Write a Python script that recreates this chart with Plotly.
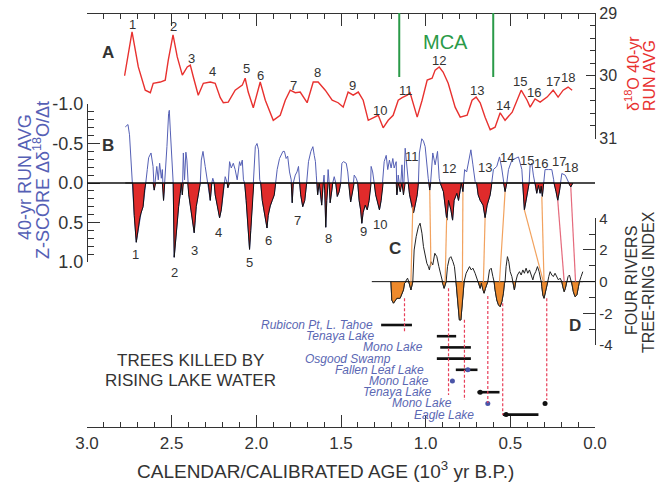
import plotly.graph_objects as go

# ---------------- data ----------------
# Panel A: delta18O 40-yr running average (age in 10^3 yr B.P., per mil)
A_SERIES = [(2.778,30.00),(2.734,29.30),(2.697,29.86),(2.656,30.23),(2.626,30.27),(2.609,30.12),
            (2.567,30.10),(2.538,30.07),(2.520,29.75),(2.492,29.35),(2.467,29.70),(2.437,29.99),
            (2.408,29.86),(2.390,29.83),(2.372,30.02),(2.343,30.31),(2.313,30.12),(2.272,30.10),
            (2.243,30.12),(2.213,30.35),(2.195,30.43),(2.166,30.42),(2.125,30.23),(2.083,30.15),
            (2.066,30.04),(2.048,30.26),(2.018,30.51),(1.995,30.27),(1.977,30.10),(1.947,30.39),
            (1.900,30.71),(1.859,30.63),(1.829,30.39),(1.800,30.23),(1.770,30.27),(1.741,30.26),
            (1.700,30.43),(1.664,30.10),(1.635,30.10),(1.593,30.23),(1.552,30.39),(1.517,30.43),
            (1.487,30.50),(1.458,30.26),(1.428,30.31),(1.398,30.26),(1.369,30.39),(1.339,30.71),
            (1.310,30.67),(1.280,30.63),(1.251,30.83),(1.221,30.71),(1.192,30.63),(1.162,30.39),
            (1.139,30.35),(1.109,30.31),(1.092,30.27),(1.050,30.66),(1.021,30.39),(0.991,30.07),
            (0.962,30.04),(0.944,29.91),(0.920,29.86),(0.897,29.94),(0.867,30.12),(0.826,30.50),
            (0.796,30.66),(0.755,30.63),(0.726,30.39),(0.702,30.34),(0.678,30.43),(0.649,30.66),
            (0.619,30.86),(0.590,30.82),(0.560,30.59),(0.531,30.71),(0.489,30.58),(0.460,30.39),
            (0.436,30.23),(0.401,30.39),(0.383,30.50),(0.354,30.37),(0.324,30.42),(0.283,30.34),
            (0.247,30.23),(0.218,30.34),(0.188,30.23),(0.159,30.18),(0.135,30.23)]

# Panel B: 40-yr run avg z-score of d(d18O)/dt
B_SERIES = [(2.774,-0.71),(2.758,-0.74),(2.749,-0.61),(2.739,-0.21),(2.730,0),(2.721,0.41),(2.709,0.75),
            (2.703,0.66),(2.695,0.53),(2.688,0.44),(2.681,0.38),(2.669,0.30),(2.660,0.09),(2.653,0),
            (2.644,-0.17),(2.636,-0.32),(2.622,-0.38),(2.610,-0.21),(2.603,0.09),(2.595,-0.10),(2.588,-0.21),
            (2.579,-0.04),(2.571,-0.25),(2.561,-0.06),(2.555,-0.17),(2.548,0.22),(2.541,0),(2.528,-0.46),
            (2.518,-0.88),(2.514,-0.92),(2.508,-0.67),(2.498,-0.25),(2.491,0),(2.485,0.94),(2.473,0.63),
            (2.459,0.30),(2.449,0.13),(2.443,0),(2.437,0.15),(2.431,-0.38),(2.424,-0.04),(2.416,-0.39),
            (2.410,-0.29),(2.405,0),(2.399,0.15),(2.390,0.28),(2.381,0.41),(2.373,0.53),(2.367,0.63),
            (2.361,0.47),(2.355,0.30),(2.346,0.19),(2.337,0.09),(2.331,0),(2.325,-0.29),(2.315,-0.40),
            (2.302,-0.21),(2.292,-0.06),(2.284,0),(2.272,0.22),(2.263,0),(2.257,-0.06),(2.249,0),
            (2.243,0.15),(2.231,0.28),(2.217,0.44),(2.207,0.34),(2.195,0.15),(2.190,0),(2.184,-0.08),
            (2.172,0),(2.168,0.06),(2.158,-0.27),(2.148,-0.19),(2.136,-0.25),(2.125,-0.17),(2.113,-0.04),
            (2.099,-0.27),(2.092,-0.22),(2.083,-0.29),(2.076,-0.04),(2.069,0),(2.060,0.22),(2.051,0.47),
            (2.040,0.84),(2.033,0.60),(2.024,0.22),(2.018,0),(2.015,-0.25),(2.006,-0.46),(1.996,-0.50),
            (1.987,-0.42),(1.980,-0.04),(1.974,0),(1.965,0.22),(1.953,0.37),(1.945,0.44),(1.937,0.57),
            (1.930,0.41),(1.918,0.29),(1.906,0.22),(1.894,0.15),(1.886,0),(1.877,-0.17),(1.863,-0.31),
            (1.843,-0.40),(1.834,-0.40),(1.824,-0.31),(1.815,-0.34),(1.804,-0.14),(1.794,-0.04),(1.788,0.25),
            (1.782,0),(1.770,-0.10),(1.760,-0.14),(1.751,-0.21),(1.744,0),(1.738,0.15),(1.726,0.30),
            (1.714,0.22),(1.703,0),(1.692,-0.27),(1.678,-0.40),(1.666,-0.46),(1.658,-0.35),(1.651,-0.27),
            (1.646,-0.10),(1.642,0),(1.638,0.15),(1.629,0),(1.623,0.09),(1.614,0.28),(1.605,0),
            (1.600,-0.10),(1.596,0.09),(1.590,0.56),(1.584,0.22),(1.580,0),(1.576,-0.17),(1.570,0),
            (1.564,0.25),(1.554,0.09),(1.549,0),(1.540,-0.08),(1.531,0),(1.522,0.17),(1.511,0.11),
            (1.502,0),(1.495,-0.25),(1.485,-0.27),(1.469,-0.25),(1.460,-0.14),(1.455,0),(1.443,0.24),
            (1.431,0.09),(1.425,0),(1.422,-0.10),(1.410,-0.06),(1.401,0),(1.393,0.22),(1.384,0.34),
            (1.377,0.51),(1.369,0.37),(1.357,0.28),(1.345,0.34),(1.334,0.22),(1.325,0),(1.322,-0.21),
            (1.313,-0.14),(1.304,0),(1.295,0.15),(1.283,0.25),(1.273,0.34),(1.263,0.22),(1.255,0),
            (1.251,-0.14),(1.245,-0.27),(1.233,-0.35),(1.224,-0.17),(1.214,-0.29),(1.204,-0.19),
            (1.194,-0.31),(1.186,-0.19),(1.174,-0.27),(1.170,0.15),(1.162,-0.10),(1.150,0.11),
            (1.140,-0.23),(1.131,0.15),(1.121,-0.44),(1.112,-0.23),(1.103,0),(1.095,0.15),(1.083,0.28),
            (1.072,0.38),(1.062,0.28),(1.050,0.15),(1.043,0),(1.037,-0.38),(1.023,-0.56),(1.013,-0.53),
            (1.003,-0.46),(0.993,-0.17),(0.985,-0.06),(0.981,0),(0.976,0.09),(0.971,0),(0.958,-0.38),
            (0.944,-0.23),(0.930,-0.40),(0.920,-0.06),(0.914,0),(0.895,0.11),(0.885,0.30),(0.875,0.47),
            (0.865,0.22),(0.851,0.34),(0.841,0.47),(0.832,0.22),(0.816,0.13),(0.806,0.22),(0.796,0.09),
            (0.790,0),(0.780,0.11),(0.776,0),(0.770,-0.17),(0.758,-0.14),(0.747,-0.25),(0.733,-0.42),
            (0.721,-0.23),(0.708,-0.02),(0.699,0),(0.690,0.15),(0.678,0.22),(0.661,0.28),(0.649,0.44),
            (0.637,0.28),(0.619,0.15),(0.609,0),(0.600,-0.17),(0.580,-0.21),(0.564,-0.33),(0.551,-0.19),
            (0.543,-0.04),(0.540,0),(0.531,0.11),(0.521,0),(0.511,-0.17),(0.491,-0.29),(0.472,-0.31),
            (0.452,-0.33),(0.432,-0.17),(0.427,0),(0.417,0.34),(0.404,0.19),(0.389,0),(0.383,-0.23),
            (0.373,-0.25),(0.364,-0.10),(0.354,0),(0.344,0.13),(0.334,0.03),(0.324,0.13),(0.318,0.04),
            (0.311,0.17),(0.303,0),(0.295,-0.17),(0.275,-0.17),(0.255,-0.17),(0.244,-0.04),(0.242,0),
            (0.230,0.11),(0.220,0.22),(0.209,0.09),(0.203,0),(0.196,-0.12),(0.176,-0.10),(0.162,-0.04),
            (0.157,0),(0.143,0.05),(0.131,0)]

# Panel C: Four Rivers tree-ring index
C_SERIES = [(1.205,0),(1.200,-1.16),(1.190,-1.36),(1.170,-1.05),(1.151,-1.05),(1.141,-0.73),(1.131,-0.52),
            (1.125,-0.10),(1.115,0.11),(1.107,0.22),(1.100,0),(1.087,-0.52),(1.076,0),(1.068,2.00),
            (1.056,2.84),(1.043,3.47),(1.033,3.69),(1.022,3.06),(1.013,2.21),(1.003,1.58),(0.993,1.16),
            (0.984,0.95),(0.978,0.74),(0.969,1.26),(0.958,1.06),(0.946,1.79),(0.934,1.58),(0.922,0.95),
            (0.910,0.42),(0.903,0),(0.891,-0.42),(0.879,0),(0.871,0.95),(0.860,1.48),(0.851,1.58),
            (0.839,1.26),(0.830,0.95),(0.822,0.11),(0.820,-0.10),(0.812,-1.16),(0.806,-2.00),(0.801,-2.42),
            (0.792,-2.42),(0.786,-1.79),(0.780,-0.73),(0.773,0),(0.761,0.53),(0.753,0.74),(0.741,0.95),
            (0.731,0.74),(0.721,0.85),(0.708,0.53),(0.698,0.22),(0.690,0),(0.678,-0.42),(0.671,-0.10),
            (0.662,-0.52),(0.655,-0.73),(0.647,-0.42),(0.639,-0.10),(0.633,0),(0.623,0.74),(0.613,0.85),
            (0.603,0.32),(0.596,0),(0.590,-0.52),(0.580,-1.16),(0.570,-1.47),(0.560,-1.58),(0.550,-1.26),
            (0.541,-0.73),(0.535,-0.10),(0.531,0),(0.525,0.95),(0.517,1.58),(0.509,1.26),(0.501,0.63),
            (0.491,0.32),(0.485,0),(0.476,-0.52),(0.468,0),(0.458,0.42),(0.446,0.63),(0.436,0.42),
            (0.426,0.74),(0.417,0.53),(0.407,0.85),(0.397,0.53),(0.387,0.74),(0.377,0.42),(0.367,0.11),
            (0.360,0.42),(0.350,0.63),(0.340,0.95),(0.330,0.63),(0.320,0.11),(0.317,0),(0.314,-0.32),
            (0.308,-0.84),(0.301,-1.05),(0.293,-0.73),(0.285,-0.32),(0.279,0),(0.273,0.32),(0.265,0.63),
            (0.255,0.42),(0.246,0.32),(0.236,0.53),(0.226,0.32),(0.216,0.11),(0.206,0.22),(0.196,0),
            (0.190,-0.32),(0.182,-0.63),(0.175,-0.42),(0.167,0),(0.159,0.32),(0.151,0.42),(0.143,0.11),
            (0.139,0),(0.135,-0.21),(0.128,-0.63),(0.118,-0.95),(0.107,-0.84),(0.098,-0.32),(0.092,0),
            (0.082,0.32),(0.072,0.63)]
C_ZERO_SPAN = [1.318, 0.0]

EVENT_LABELS = [str(i) for i in range(1, 19)]
A_LABEL_AGE = [2.734,2.492,2.384,2.256,2.056,1.977,1.780,1.639,1.430,1.269,1.115,0.924,0.698,0.544,0.442,0.360,0.249,0.157]
A_LABEL_VAL = [29.19,29.22,29.72,29.94,29.88,29.99,30.15,29.95,30.15,30.55,30.23,29.75,30.23,30.47,30.09,30.27,30.09,30.02]
B_LABEL_AGE = [2.715,2.485,2.367,2.225,2.042,1.930,1.759,1.576,1.369,1.269,1.080,0.861,0.649,0.519,0.401,0.318,0.212,0.141]
B_LABEL_Z = [0.91,1.13,0.85,0.63,1.01,0.73,0.47,0.70,0.62,0.52,-0.33,-0.18,-0.19,-0.32,-0.29,-0.25,-0.27,-0.19]

MCA_BOUNDS = [1.156, 0.601]
MCA_TOP_BOTTOM = [29.0, 30.02]

# correlation links B -> C
LINK_B_AGE = [1.076,0.976,0.876,0.780,0.649,0.531,0.417,0.314,0.220,0.143]
LINK_B_Z   = [0.30,0.09,0.44,0.11,0.44,0.11,0.34,0.17,0.22,0.05]
LINK_C_AGE = [1.087,0.969,0.885,0.783,0.659,0.564,0.305,0.301,0.182,0.115]
LINK_C_VAL = [0,0.99,0,0,0,0,0,0,0,0]

# dashed drops C -> D
DASH_AGE = [1.125,0.865,0.771,0.633,0.545,0.285]
DASH_C_VAL = [-1.05,-0.42,-2.40,-0.90,-1.37,-1.05]
DASH_D_ROW = [0.6,6.25,6.7,6.96,8.04,6.7]

# Panel D: trees killed by rising lake water
D_SITES = ["Rubicon Pt, L. Tahoe","Tenaya Lake","Mono Lake","Osgood Swamp","Fallen Leaf Lake",
           "Mono Lake","Tenaya Lake","Mono Lake","Eagle Lake"]
D_OLD   = [1.263,0.934,0.914,0.934,0.822,None,0.694,None,0.544]
D_YOUNG = [1.081,0.820,0.733,0.733,0.694,None,0.564,None,0.334]
D_BLUE_DOT  = [None,None,None,None,0.751,0.842,None,0.633,None]
D_BLACK_DOT = [None,None,None,None,None,None,0.678,0.295,0.525]

# ---------------- layout geometry / styles ----------------
W, H = 667, 482
ML, MR, MT, MB = 87, 72, 13, 55
PW, PH = W - ML - MR, H - MT - MB
def px(x): return (x - ML) / PW
def py(y): return (H - MB - y) / PH

DOM_A, RNG_A = [py(138.5), py(13)], [31, 29]
DOM_B, RNG_B = [py(262), py(104)], [1, -1]
DOM_C, RNG_C = [py(345), py(218.3)], [-4, 4]
DOM_D, RNG_D = [py(420), py(318)], [8.482, -0.625]

def to_paper(v, dom, rng):
    return dom[0] + (v - rng[0]) / (rng[1] - rng[0]) * (dom[1] - dom[0])

FONT = "Liberation Sans, Arial, Helvetica, sans-serif"
AX = "#333333"
TXT = "#333333"
RED = "#e8312f"
BLUE = "#5560b5"
FILL_RED = "#e02b2b"
ORANGE = "#ee8a2c"
GREEN = "#2a9a48"
LINK_COLORS = ["#f2a25e"] * 8 + ["#e56a7c"] * 2
DASH_COLOR = "#e8405a"
D_LABEL_AGE = [1.298,1.288,1.003,1.192,0.997,0.969,0.948,0.830,0.702]

a_age = [p[0] for p in A_SERIES]; a_val = [p[1] for p in A_SERIES]
b_age = [p[0] for p in B_SERIES]; b_val = [p[1] for p in B_SERIES]
c_age = [p[0] for p in C_SERIES]; c_val = [p[1] for p in C_SERIES]

fig = go.Figure()
# A
fig.add_trace(go.Scatter(x=a_age, y=a_val, mode="lines", line=dict(color=RED, width=1.4),
                         xaxis="x", yaxis="y", hoverinfo="skip"))
fig.add_trace(go.Scatter(x=[3.0], y=[29.0], mode="markers", marker=dict(opacity=0),
                         xaxis="x2", yaxis="y", hoverinfo="skip"))
# B
fig.add_trace(go.Scatter(x=b_age, y=b_val, mode="lines", line=dict(color=BLUE, width=1),
                         xaxis="x", yaxis="y2", hoverinfo="skip"))
fig.add_trace(go.Scatter(x=b_age, y=[max(v, 0) for v in b_val], mode="lines",
                         line=dict(color="#111111", width=1), fill="tozeroy", fillcolor=FILL_RED,
                         xaxis="x", yaxis="y2", hoverinfo="skip"))
# C
fig.add_trace(go.Scatter(x=c_age, y=c_val, mode="lines", line=dict(color="#222222", width=1),
                         xaxis="x", yaxis="y3", hoverinfo="skip"))
fig.add_trace(go.Scatter(x=c_age, y=[min(v, 0) for v in c_val], mode="lines",
                         line=dict(color="#222222", width=1), fill="tozeroy", fillcolor=ORANGE,
                         xaxis="x", yaxis="y3", hoverinfo="skip"))
# D bars
bx, by = [], []
for i, (o, yng) in enumerate(zip(D_OLD, D_YOUNG)):
    if o is not None:
        bx += [o, yng, None]; by += [i, i, None]
fig.add_trace(go.Scatter(x=bx, y=by, mode="lines", line=dict(color="#111111", width=2.6),
                         xaxis="x", yaxis="y4", hoverinfo="skip"))
fig.add_trace(go.Scatter(x=[v for v in D_BLUE_DOT if v is not None],
                         y=[i for i, v in enumerate(D_BLUE_DOT) if v is not None],
                         mode="markers", marker=dict(color="#4a55a8", size=5),
                         xaxis="x", yaxis="y4", hoverinfo="skip"))
fig.add_trace(go.Scatter(x=[v for v in D_BLACK_DOT if v is not None],
                         y=[i for i, v in enumerate(D_BLACK_DOT) if v is not None],
                         mode="markers", marker=dict(color="#111111", size=5),
                         xaxis="x", yaxis="y4", hoverinfo="skip"))

shapes = []
shapes.append(dict(type="line", xref="paper", yref="y2", x0=0, x1=1, y0=0, y1=0,
                   line=dict(color="#111111", width=1.6)))
shapes.append(dict(type="line", xref="x", yref="y3", x0=C_ZERO_SPAN[0], x1=C_ZERO_SPAN[1], y0=0, y1=0,
                   line=dict(color="#111111", width=1)))
for m in MCA_BOUNDS:
    shapes.append(dict(type="line", xref="x", yref="y", x0=m, x1=m, y0=MCA_TOP_BOTTOM[0], y1=MCA_TOP_BOTTOM[1],
                       line=dict(color=GREEN, width=2)))
for ba, bz, ca, cv, col in zip(LINK_B_AGE, LINK_B_Z, LINK_C_AGE, LINK_C_VAL, LINK_COLORS):
    shapes.append(dict(type="line", xref="x", yref="paper", x0=ba, x1=ca,
                       y0=to_paper(bz, DOM_B, RNG_B), y1=to_paper(cv, DOM_C, RNG_C),
                       line=dict(color=col, width=1.2)))
for a, cv, r in zip(DASH_AGE, DASH_C_VAL, DASH_D_ROW):
    shapes.append(dict(type="line", xref="x", yref="paper", x0=a, x1=a,
                       y0=to_paper(cv, DOM_C, RNG_C), y1=to_paper(r, DOM_D, RNG_D),
                       line=dict(color=DASH_COLOR, width=1.2, dash="3px,2px")))

ann = []
def txt(x, y, text, size, color=TXT, xref="paper", yref="paper", angle=0, xanchor="center", bold=False):
    ann.append(dict(x=x, y=y, xref=xref, yref=yref, text=("<b>%s</b>" % text) if bold else text,
                    showarrow=False, textangle=angle, xanchor=xanchor, yanchor="middle",
                    font=dict(family=FONT, size=size, color=color)))

for lab, a, v in zip(EVENT_LABELS, A_LABEL_AGE, A_LABEL_VAL):
    txt(a, to_paper(v, DOM_A, RNG_A), lab, 13, xref="x")
for lab, a, v in zip(EVENT_LABELS, B_LABEL_AGE, B_LABEL_Z):
    txt(a, to_paper(v, DOM_B, RNG_B), lab, 13, xref="x")
for i, (s, a) in enumerate(zip(D_SITES, D_LABEL_AGE)):
    txt(a, to_paper(i, DOM_D, RNG_D), "<i>%s</i>" % s, 12, color="#5b67b3", xref="x", xanchor="right")

txt(px(108), py(53), "A", 17, bold=True)
txt(px(108), py(145), "B", 17, bold=True)
txt(px(395), py(248), "C", 17, bold=True)
txt(px(575), py(325), "D", 17, bold=True)
txt(px(445), py(42), "MCA", 20, color=GREEN)
txt(px(190), py(360), "TREES KILLED BY", 17)
txt(px(190), py(380), "RISING LAKE WATER", 17)
txt(px(325), py(470), "CALENDAR/CALIBRATED AGE (10<sup>3</sup> yr B.P.)", 19)
txt(px(25), py(177), "40-yr RUN AVG", 18, color=BLUE, angle=-90)
txt(px(41), py(180), "Z-SCORE Δδ<sup>18</sup>O/Δt", 18, color=BLUE, angle=-90)
txt(px(632), py(74), "δ<sup>18</sup>O 40-yr", 16, color=RED, angle=-90)
txt(px(649), py(76), "RUN AVG", 16, color=RED, angle=-90)
txt(px(631), py(281), "FOUR RIVERS", 16, angle=-90)
txt(px(648), py(282), "TREE-RING INDEX", 16, angle=-90)

common = dict(showgrid=False, zeroline=False, showline=True, linecolor=AX, linewidth=1.3,
              tickcolor=AX, tickwidth=1.2, automargin=False)
fig.update_layout(
    width=W, height=H, margin=dict(l=ML, r=MR, t=MT, b=MB, pad=0, autoexpand=False),
    paper_bgcolor="white", plot_bgcolor="rgba(0,0,0,0)", showlegend=False,
    font=dict(family=FONT, color=TXT),
    xaxis=dict(domain=[0, 1], range=[3.0, 0.0], anchor="free", position=0, ticks="inside", ticklen=12,
               dtick=0.5, tick0=0, tickformat=".1f", tickfont=dict(size=17, color=TXT),
               minor=dict(ticks="inside", ticklen=5, dtick=0.1, tick0=0, tickcolor=AX), **common),
    xaxis2=dict(overlaying="x", side="top", anchor="free", position=1, range=[3.0, 0.0], ticks="inside",
                ticklen=12, dtick=0.5, tick0=0, showticklabels=False,
                minor=dict(ticks="inside", ticklen=5, dtick=0.1, tick0=0, tickcolor=AX), **common),
    yaxis=dict(domain=DOM_A, range=RNG_A, side="right", anchor="free", position=1, ticks="inside",
               ticklen=9, dtick=1, tick0=0, tickfont=dict(size=16, color=TXT),
               minor=dict(ticks="inside", ticklen=5, dtick=0.2, tick0=0, tickcolor=AX), **common),
    yaxis2=dict(domain=DOM_B, range=RNG_B, side="left", anchor="free", position=0, ticks="inside",
                ticklen=12, tickmode="array", tickvals=[-1, -0.5, 0, 0.5, 1],
                ticktext=["-1.0", "-0.5", "0.0", "0.5", "1.0"], tickfont=dict(size=18, color=TXT),
                minor=dict(ticks="inside", ticklen=6, tickmode="array", tickcolor=AX,
                           tickvals=[round(-1 + 0.1 * k, 1) for k in range(21)]), **common),
    yaxis3=dict(domain=DOM_C, range=RNG_C, side="right", anchor="free", position=1, ticks="inside",
                ticklen=12, tickmode="array", tickvals=[-4, -2, 0, 2, 4],
                ticktext=["-4", "-2", "0", "2", "4"], tickfont=dict(size=15, color=TXT),
                minor=dict(ticks="inside", ticklen=6, tickmode="array", tickvals=[-3, -1, 1, 3],
                           tickcolor=AX), **common),
    yaxis4=dict(domain=DOM_D, range=RNG_D, anchor="free", position=0, visible=False),
    shapes=shapes, annotations=ann,
)
fig.write_html("out.html", config={"displayModeBar": False},
               post_script="document.body.style.margin='0px';document.body.style.padding='0px';")
